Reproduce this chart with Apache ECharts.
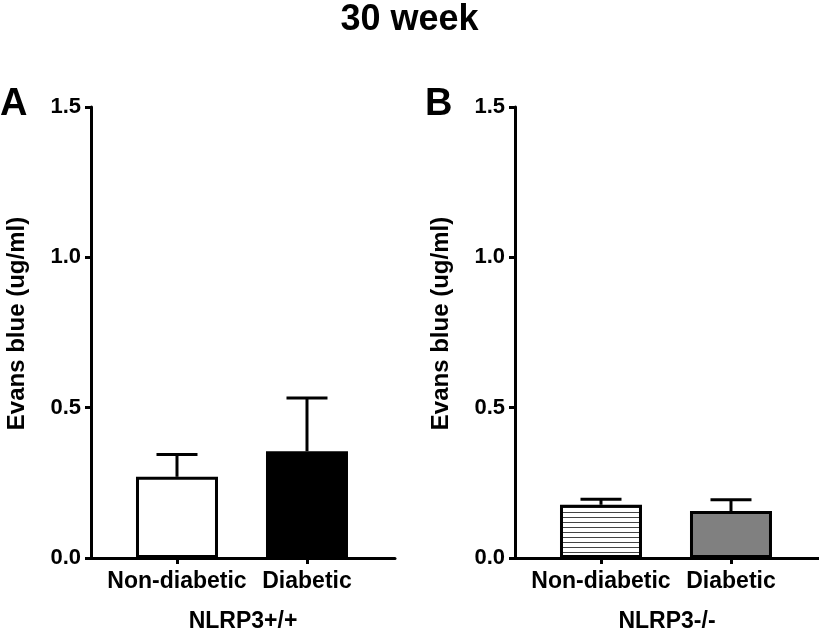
<!DOCTYPE html>
<html>
<head>
<meta charset="utf-8">
<script src="https://cdn.jsdelivr.net/npm/echarts@6/dist/echarts.min.js"></script>
<style>html,body{margin:0;padding:0;background:#fff}#c{width:819px;height:638px}</style>
</head>
<body>
<div id="c"></div>
<script>
// ---- data ----
var chartTitle = '30 week';
var categories = ['Non-diabetic', 'Diabetic'];
var groupA = 'NLRP3+/+';
var groupB = 'NLRP3-/-';
var yTicks = [0, 0.5, 1.0, 1.5];
var meanA = [0.27, 0.355];
var sdA = [0.074, 0.177];
var meanB = [0.177, 0.156];
var sdB = [0.018, 0.038];
var yName = 'Evans blue (ug/ml)';

// ---- styling ----
var FONT = 'Liberation Sans, Arial, sans-serif';
var pc = document.createElement('canvas');
pc.width = 8; pc.height = 5;
var pctx = pc.getContext('2d');
pctx.fillStyle = '#fff'; pctx.fillRect(0, 0, 8, 5);
pctx.fillStyle = '#444'; pctx.fillRect(0, 2, 8, 1);

var chart = echarts.init(document.getElementById('c'), null, {renderer: 'canvas'});

function xAxisDef(gi, name) {
  return {
    type: 'value', gridIndex: gi, min: -0.6615, max: 1.677,
    name: name, nameLocation: 'middle', nameGap: 52,
    nameTextStyle: {fontFamily: FONT, fontWeight: 'bold', fontSize: 23, color: '#000'},
    axisLine: {show: true, onZero: false, lineStyle: {color: '#000', width: 3}},
    axisTick: {show: true, customValues: [0, 1], length: 6, lineStyle: {color: '#000', width: 3}},
    axisLabel: {customValues: [0, 1], margin: 12, fontFamily: FONT, fontWeight: 'bold', fontSize: 23, color: '#000',
      formatter: function (v) { return categories[Math.round(v)]; }},
    splitLine: {show: false}
  };
}
function yAxisDef(gi) {
  return {
    type: 'value', gridIndex: gi, min: yTicks[0], max: yTicks[yTicks.length - 1], interval: 0.5,
    name: yName, nameLocation: 'middle', nameGap: 62,
    nameTextStyle: {fontFamily: FONT, fontWeight: 'bold', fontSize: 24, color: '#000', padding: [0, 0, 0, 18]},
    axisLine: {show: true, onZero: false, lineStyle: {color: '#000', width: 3}},
    axisTick: {show: true, length: 6, lineStyle: {color: '#000', width: 3}},
    axisLabel: {margin: 10, fontFamily: FONT, fontWeight: 'bold', fontSize: 22, color: '#000',
      formatter: function (v) { return v.toFixed(1); }},
    splitLine: {show: false}
  };
}
function barSeries(gi, means, colors) {
  return {
    type: 'bar', xAxisIndex: gi, yAxisIndex: gi, barWidth: 82,
    data: means.map(function (m, i) {
      return {value: [i, m], itemStyle: {color: colors[i], borderColor: '#000', borderWidth: 3}};
    }),
    z: 2
  };
}
function errSeries(gi, means, sds) {
  return {
    type: 'custom', xAxisIndex: gi, yAxisIndex: gi, z: 3,
    data: means.map(function (m, i) { return [i, m, sds[i]]; }),
    renderItem: function (params, api) {
      var x = api.value(0), m = api.value(1), s = api.value(2);
      var p0 = api.coord([x, m]);
      var p1 = api.coord([x, m + s]);
      var st = {stroke: '#000', lineWidth: 3, fill: null};
      return {type: 'group', children: [
        {type: 'line', shape: {x1: p0[0], y1: p0[1], x2: p1[0], y2: p1[1]}, style: st},
        {type: 'line', shape: {x1: p1[0] - 20.5, y1: p1[1], x2: p1[0] + 20.5, y2: p1[1]}, style: st}
      ]};
    }
  };
}

chart.setOption({
  animation: false,
  backgroundColor: '#fff',
  title: [
    {text: chartTitle, left: 'center', top: -3, textStyle: {fontFamily: FONT, fontWeight: 'bold', fontSize: 36, color: '#000'}},
    {text: 'A', left: -5, top: 81, textStyle: {fontFamily: FONT, fontWeight: 'bold', fontSize: 38, color: '#000'}},
    {text: 'B', left: 420, top: 81, textStyle: {fontFamily: FONT, fontWeight: 'bold', fontSize: 38, color: '#000'}}
  ],
  grid: [
    {left: 91, top: 107, width: 304, height: 453},
    {left: 515, top: 107, width: 304, height: 453}
  ],
  xAxis: [xAxisDef(0, groupA), xAxisDef(1, groupB)],
  yAxis: [yAxisDef(0), yAxisDef(1)],
  series: [
    barSeries(0, meanA, ['#fff', '#000']),
    errSeries(0, meanA, sdA),
    barSeries(1, meanB, [{image: pc, repeat: 'repeat'}, '#808080']),
    errSeries(1, meanB, sdB)
  ]
});
</script>
</body>
</html>
